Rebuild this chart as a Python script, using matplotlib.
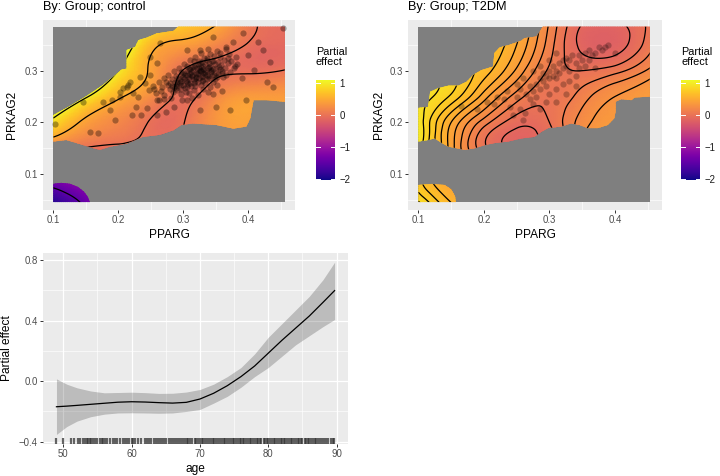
import numpy as np
import matplotlib
matplotlib.use("Agg")
import matplotlib.pyplot as plt
from matplotlib.patches import Rectangle, PathPatch
from matplotlib.path import Path
from matplotlib.tri import Triangulation, UniformTriRefiner

plt.rcParams['font.family'] = ['Liberation Sans', 'DejaVu Sans']

# ---- surface data: partial effect on a coarse grid ----
pparg_nodes = [0.10, 0.15, 0.20, 0.25, 0.30, 0.35, 0.40, 0.46]
prkag2_nodes = [0.04, 0.10, 0.15, 0.20, 0.25, 0.30, 0.35, 0.40]

effect_control = [
    [-1.95, -1.45, -1.00, -0.70, -0.40, -0.10, 0.10, 0.20],
    [-1.00, -0.80, -0.60, -0.50, -0.30, 0.00, 0.20, 0.25],
    [0.10, -0.02, -0.06, -0.08, -0.04, 0.25, 0.36, 0.33],
    [0.90, 0.42, 0.20, -0.02, -0.01, 0.33, 0.42, 0.40],
    [1.65, 1.05, 0.55, 0.25, -0.05, 0.20, 0.38, 0.38],
    [2.50, 1.80, 1.00, 0.45, -0.01, -0.05, -0.04, 0.02],
    [2.60, 2.00, 1.40, 0.62, 0.40, 0.20, -0.02, -0.10],
    [2.50, 2.20, 1.80, 1.30, 0.80, 0.60, 0.10, -0.10],
]

effect_t2dm = [
    [0.95, 0.62, 0.40, 0.30, 0.20, 0.30, 0.35, 0.35],
    [0.75, 0.45, 0.30, 0.10, 0.10, 0.30, 0.40, 0.40],
    [0.95, 0.45, 0.03, -0.13, -0.05, 0.30, 0.50, 0.45],
    [0.98, 0.50, 0.15, -0.06, 0.00, 0.25, 0.38, 0.42],
    [0.95, 0.78, 0.45, 0.15, 0.02, 0.15, 0.30, 0.40],
    [1.05, 0.85, 0.65, 0.38, 0.08, 0.00, 0.06, 0.25],
    [1.15, 0.95, 0.75, 0.50, 0.15, -0.13, -0.16, 0.10],
    [1.25, 1.05, 0.85, 0.58, 0.20, -0.08, -0.10, 0.05],
]

# regions that are not "too far" from the data (coloured part of the raster)
region_control = [
    [(0.100, 0.163), (0.100, 0.214), (0.125, 0.231), (0.150, 0.250), (0.175, 0.271),
     (0.195, 0.291), (0.205, 0.302), (0.213, 0.304), (0.213, 0.340), (0.226, 0.346),
     (0.231, 0.359), (0.244, 0.364), (0.259, 0.372), (0.285, 0.377), (0.292, 0.385),
     (0.456, 0.385), (0.456, 0.240), (0.428, 0.243), (0.408, 0.243), (0.403, 0.208),
     (0.397, 0.192), (0.377, 0.188), (0.351, 0.195), (0.315, 0.198), (0.297, 0.195),
     (0.285, 0.185), (0.264, 0.176), (0.238, 0.172), (0.213, 0.159), (0.187, 0.153),
     (0.172, 0.147), (0.162, 0.150), (0.136, 0.160), (0.120, 0.166)],
    [(0.100, 0.046), (0.100, 0.081), (0.112, 0.083), (0.126, 0.081), (0.138, 0.075),
     (0.147, 0.066), (0.153, 0.056), (0.156, 0.046)],
]

region_t2dm = [
    [(0.100, 0.163), (0.100, 0.228), (0.115, 0.230), (0.118, 0.259), (0.130, 0.266),
     (0.146, 0.271), (0.161, 0.271), (0.174, 0.279), (0.184, 0.292), (0.196, 0.301),
     (0.214, 0.308), (0.216, 0.334), (0.224, 0.345), (0.239, 0.350), (0.257, 0.358),
     (0.262, 0.363), (0.280, 0.366), (0.285, 0.375), (0.290, 0.385), (0.453, 0.385),
     (0.453, 0.250), (0.430, 0.248), (0.425, 0.243), (0.410, 0.245), (0.401, 0.240),
     (0.401, 0.221), (0.399, 0.208), (0.389, 0.195), (0.374, 0.189), (0.358, 0.189),
     (0.346, 0.195), (0.333, 0.198), (0.318, 0.192), (0.298, 0.189), (0.288, 0.182),
     (0.277, 0.172), (0.257, 0.169), (0.237, 0.163), (0.216, 0.160), (0.201, 0.156),
     (0.186, 0.150), (0.171, 0.147), (0.146, 0.153), (0.136, 0.160), (0.125, 0.169),
     (0.115, 0.166)],
    [(0.100, 0.046), (0.100, 0.079), (0.120, 0.081), (0.140, 0.079), (0.150, 0.071),
     (0.156, 0.057), (0.157, 0.046)],
]

# observations (PPARG, PRKAG2)
control_pts = [
    (0.102, 0.197), (0.146, 0.240), (0.156, 0.182), (0.169, 0.179), (0.177, 0.240),
    (0.187, 0.224), (0.190, 0.243), (0.203, 0.259), (0.203, 0.250), (0.208, 0.266),
    (0.213, 0.269), (0.215, 0.272), (0.218, 0.279), (0.221, 0.214), (0.223, 0.256),
    (0.228, 0.230), (0.231, 0.250), (0.233, 0.288), (0.241, 0.276), (0.244, 0.227),
    (0.249, 0.292), (0.249, 0.327), (0.259, 0.314), (0.259, 0.243), (0.259, 0.214),
    (0.264, 0.353), (0.274, 0.221), (0.285, 0.230), (0.305, 0.243), (0.305, 0.340),
    (0.326, 0.224), (0.326, 0.340), (0.346, 0.366), (0.351, 0.230), (0.372, 0.224),
    (0.377, 0.356), (0.392, 0.372), (0.397, 0.243), (0.408, 0.301), (0.423, 0.340),
    (0.428, 0.279), (0.433, 0.317), (0.438, 0.269), (0.454, 0.382), (0.195, 0.205),
    (0.235, 0.215), (0.255, 0.265), (0.270, 0.245), (0.365, 0.345), (0.400, 0.330),
    (0.380, 0.310), (0.415, 0.355), (0.360, 0.260), (0.345, 0.255), (0.390, 0.285),
    (0.262, 0.244), (0.281, 0.247), (0.298, 0.243), (0.314, 0.248),
    (0.258, 0.256), (0.271, 0.253), (0.284, 0.258), (0.296, 0.254), (0.309, 0.257),
    (0.322, 0.253), (0.338, 0.258),
    (0.247, 0.263), (0.266, 0.261), (0.279, 0.265), (0.291, 0.262), (0.303, 0.266),
    (0.317, 0.262), (0.331, 0.264),
    (0.253, 0.271), (0.268, 0.269), (0.276, 0.273), (0.288, 0.270), (0.297, 0.272),
    (0.306, 0.268), (0.318, 0.271), (0.327, 0.273), (0.341, 0.269), (0.352, 0.272),
    (0.262, 0.278), (0.279, 0.276), (0.287, 0.279), (0.295, 0.277), (0.304, 0.280),
    (0.311, 0.276), (0.322, 0.278), (0.333, 0.276), (0.345, 0.279),
    (0.271, 0.285), (0.283, 0.283), (0.292, 0.286), (0.301, 0.284), (0.309, 0.287),
    (0.316, 0.283), (0.324, 0.285), (0.331, 0.282), (0.339, 0.286), (0.348, 0.284),
    (0.361, 0.287),
    (0.277, 0.292), (0.289, 0.290), (0.298, 0.293), (0.306, 0.291), (0.313, 0.289),
    (0.321, 0.293), (0.328, 0.290), (0.336, 0.292), (0.344, 0.289), (0.353, 0.293),
    (0.366, 0.291),
    (0.286, 0.299), (0.297, 0.297), (0.305, 0.300), (0.312, 0.298), (0.319, 0.296),
    (0.327, 0.300), (0.334, 0.297), (0.342, 0.299), (0.351, 0.296), (0.359, 0.300),
    (0.372, 0.298),
    (0.294, 0.306), (0.308, 0.304), (0.316, 0.307), (0.324, 0.305), (0.331, 0.303),
    (0.338, 0.306), (0.346, 0.304), (0.355, 0.307), (0.364, 0.305), (0.378, 0.306),
    (0.301, 0.313), (0.318, 0.311), (0.326, 0.314), (0.333, 0.312), (0.341, 0.310),
    (0.349, 0.313), (0.358, 0.311), (0.369, 0.314), (0.383, 0.312),
    (0.311, 0.320), (0.324, 0.318), (0.336, 0.321), (0.344, 0.319), (0.353, 0.317),
    (0.362, 0.320), (0.374, 0.318),
    (0.318, 0.327), (0.332, 0.325), (0.347, 0.328), (0.357, 0.326), (0.368, 0.324),
    (0.381, 0.327),
    (0.327, 0.334), (0.341, 0.332), (0.356, 0.335), (0.371, 0.333),
    (0.338, 0.341), (0.352, 0.339), (0.366, 0.342),
    (0.300, 0.288), (0.310, 0.294), (0.320, 0.288), (0.330, 0.296), (0.315, 0.301),
    (0.325, 0.299), (0.305, 0.279), (0.295, 0.283), (0.335, 0.302), (0.318, 0.281),
    (0.290, 0.275), (0.340, 0.308), (0.285, 0.268), (0.327, 0.307), (0.312, 0.270),
    (0.296, 0.281), (0.302, 0.291), (0.308, 0.283), (0.314, 0.292), (0.319, 0.285),
    (0.323, 0.295), (0.329, 0.288), (0.334, 0.294), (0.338, 0.289), (0.343, 0.297),
    (0.347, 0.292), (0.326, 0.302), (0.331, 0.309), (0.321, 0.306), (0.311, 0.303),
    (0.301, 0.296), (0.291, 0.279), (0.299, 0.272), (0.307, 0.275), (0.316, 0.277),
    (0.328, 0.281), (0.336, 0.284), (0.343, 0.302), (0.350, 0.306), (0.357, 0.303),
    (0.339, 0.314), (0.346, 0.318), (0.322, 0.312), (0.313, 0.307), (0.282, 0.271),
    (0.289, 0.266), (0.273, 0.279), (0.306, 0.309), (0.352, 0.288), (0.360, 0.295),
    (0.317, 0.318), (0.329, 0.317), (0.337, 0.325), (0.296, 0.265), (0.304, 0.259),
]

t2dm_pts = [
    (0.165, 0.232), (0.190, 0.225), (0.205, 0.240), (0.215, 0.235), (0.220, 0.250),
    (0.230, 0.245), (0.235, 0.260), (0.240, 0.230), (0.245, 0.215), (0.250, 0.250),
    (0.255, 0.265), (0.260, 0.205), (0.262, 0.218), (0.265, 0.255), (0.270, 0.245),
    (0.270, 0.270), (0.275, 0.260), (0.280, 0.275), (0.280, 0.250), (0.285, 0.285),
    (0.285, 0.265), (0.290, 0.280), (0.290, 0.295), (0.295, 0.270), (0.295, 0.290),
    (0.300, 0.300), (0.300, 0.285), (0.305, 0.290), (0.305, 0.310), (0.310, 0.300),
    (0.310, 0.285), (0.315, 0.315), (0.315, 0.295), (0.320, 0.320), (0.320, 0.305),
    (0.325, 0.310), (0.325, 0.325), (0.330, 0.300), (0.330, 0.320), (0.335, 0.330),
    (0.340, 0.315), (0.345, 0.330), (0.350, 0.320), (0.355, 0.335), (0.360, 0.340),
    (0.365, 0.330), (0.370, 0.335), (0.375, 0.345), (0.380, 0.340), (0.385, 0.345),
    (0.390, 0.350), (0.360, 0.320), (0.300, 0.255), (0.310, 0.265), (0.320, 0.275),
    (0.330, 0.280), (0.340, 0.290), (0.295, 0.240), (0.310, 0.240), (0.325, 0.255),
    (0.255, 0.225), (0.275, 0.235), (0.285, 0.225), (0.340, 0.270), (0.370, 0.305),
    (0.310, 0.335), (0.300, 0.320), (0.285, 0.310), (0.275, 0.300), (0.345, 0.305),
    (0.355, 0.310), (0.400, 0.335), (0.260, 0.285), (0.250, 0.275),
]

levels_control = [-2.0, -1.5, -1.0, -0.5, 0.0, 0.5, 1.0, 1.5, 2.0]
levels_t2dm = [-0.1, 0.0, 0.1, 0.2, 0.3, 0.4, 0.5, 0.6, 0.7, 0.8, 0.9, 1.0, 1.1, 1.2, 1.3]

# ---- smooth of age ----
age = [49.0, 50.5, 52.0, 54.0, 56.0, 58.0, 60.0, 62.0, 64.0, 66.0, 68.0,
       70.0, 72.0, 74.0, 76.0, 78.0, 80.0, 82.0, 84.0, 86.0, 88.0, 89.7]
age_fit = [-0.169, -0.165, -0.160, -0.153, -0.146, -0.139, -0.136, -0.138, -0.142, -0.145, -0.140,
           -0.118, -0.080, -0.030, 0.030, 0.100, 0.185, 0.270, 0.350, 0.430, 0.520, 0.598]
age_upper = [0.015, -0.020, -0.044, -0.065, -0.077, -0.075, -0.073, -0.076, -0.081, -0.080, -0.072,
             -0.055, -0.020, 0.030, 0.090, 0.180, 0.290, 0.380, 0.470, 0.560, 0.670, 0.785]
age_lower = [-0.352, -0.300, -0.264, -0.235, -0.218, -0.210, -0.209, -0.210, -0.212, -0.210, -0.200,
             -0.187, -0.145, -0.100, -0.040, 0.030, 0.090, 0.165, 0.240, 0.300, 0.360, 0.407]
age_rug = [49.0, 50.0, 51.1, 51.6, 52.2, 52.5, 52.9,
           53.2, 53.4, 53.6, 53.9, 54.1, 54.4, 54.6, 54.9, 55.3, 55.6, 55.8, 56.1, 56.4, 56.9,
           57.2, 57.5, 57.8, 58.3, 58.7, 59.0, 59.3, 59.6, 60.0, 60.2, 60.5, 60.9, 61.4, 61.9,
           62.2, 62.5, 62.8, 63.2, 63.5, 63.9, 64.2, 64.5, 64.8, 65.1, 65.4, 65.8, 66.1, 66.3,
           66.6, 66.9, 67.2, 67.5, 67.8, 68.1, 68.3, 68.6, 68.9, 69.2, 69.4, 69.7, 70.0, 70.3,
           70.5, 70.8, 71.1, 71.3, 71.6, 71.9, 72.1, 72.4, 72.7, 72.9, 73.2, 73.5, 73.7, 74.0,
           74.2, 74.5, 74.8, 75.0, 75.3, 75.5, 75.8, 76.0, 76.3, 76.5, 76.8, 77.0, 77.3, 77.5,
           77.8, 78.0, 78.3, 78.5, 78.8, 79.0, 79.3, 79.5, 79.8, 80.0, 80.3, 80.5, 80.8, 81.0,
           81.3, 81.5, 81.8, 82.0, 82.3, 82.5, 82.8, 83.0, 83.3, 83.5, 83.8, 84.0, 84.3, 84.5,
           84.8, 85.0, 85.3, 85.5, 85.8, 86.0, 86.3, 86.5, 86.8, 87.0, 87.3, 87.6, 87.9, 88.2,
           88.5, 88.8, 89.1, 89.4, 89.6]

VMIN, VMAX = -2.02, 1.10
PANEL_BG = '#EBEBEB'
NA_GREY = '#7F7F7F'


def style_axes(ax):
    ax.set_facecolor(PANEL_BG)
    for s in ax.spines.values():
        s.set_visible(False)
    ax.grid(True, which='major', color='white', linewidth=0.9, zorder=0)
    ax.grid(True, which='minor', color='white', linewidth=0.45, zorder=0)
    ax.set_axisbelow(True)
    ax.tick_params(which='major', length=2.2, width=0.7, color='#333333',
                   labelcolor='#4D4D4D', labelsize=6.9, pad=1.5)
    ax.tick_params(which='minor', length=0)


# triangulated grid used to draw the surfaces
gx, gy = np.meshgrid(pparg_nodes, prkag2_nodes)
nx, ny = len(pparg_nodes), len(prkag2_nodes)
triangles = []
for j in range(ny - 1):
    for i in range(nx - 1):
        a = j * nx + i
        triangles.append([a, a + 1, a + nx + 1])
        triangles.append([a, a + nx + 1, a + nx])
tri = Triangulation(gx.ravel(), gy.ravel(), triangles)
refiner = UniformTriRefiner(tri)


def draw_surface(ax, effect, regions, pts, levels, title, xmax, pt_alpha):
    style_axes(ax)
    ax.set_xlim(0.0842, 0.4718)
    ax.set_ylim(0.0306, 0.398)
    ax.set_xticks([0.1, 0.2, 0.3, 0.4])
    ax.set_xticks([0.15, 0.25, 0.35, 0.45], minor=True)
    ax.set_yticks([0.1, 0.2, 0.3])
    ax.set_yticks([0.05, 0.15, 0.25, 0.35], minor=True)
    ax.set_xticklabels(['0.1', '0.2', '0.3', '0.4'])
    ax.set_yticklabels(['0.1', '0.2', '0.3'])

    ax.add_patch(Rectangle((0.1, 0.046), xmax - 0.1, 0.385 - 0.046,
                           facecolor=NA_GREY, edgecolor='none', zorder=1))

    verts, codes = [], []
    for poly in regions:
        verts += list(poly) + [poly[0]]
        codes += [Path.MOVETO] + [Path.LINETO] * (len(poly) - 1) + [Path.CLOSEPOLY]
    clip = PathPatch(Path(verts, codes), transform=ax.transData,
                     facecolor='none', edgecolor='none')
    ax.add_patch(clip)

    tri_f, z_f = refiner.refine_field(np.array(effect).ravel(), subdiv=4)
    tp = ax.tripcolor(tri_f, z_f, shading='gouraud', cmap='plasma',
                      vmin=VMIN, vmax=VMAX, zorder=2)
    tp.set_clip_path(clip)
    cs = ax.tricontour(tri_f, z_f, levels=levels, colors='black',
                       linewidths=0.9, linestyles='solid', zorder=3)
    cs.set_clip_path(clip)

    px = [p[0] for p in pts]
    py = [p[1] for p in pts]
    ax.scatter(px, py, s=20, color='black', alpha=pt_alpha, linewidths=0, zorder=4)

    ax.set_title(title, loc='left', fontsize=9.2, pad=7)
    ax.set_xlabel('PPARG', fontsize=8.6, labelpad=3)
    ax.set_ylabel('PRKAG2', fontsize=8.6)


def draw_legend(fig, rect, title_xy):
    cax = fig.add_axes(rect)
    grad = np.linspace(VMIN, VMAX, 256).reshape(-1, 1)
    cax.imshow(grad, extent=[0, 1, VMIN, VMAX], origin='lower', aspect='auto',
               cmap='plasma', vmin=VMIN, vmax=VMAX)
    cax.set_xlim(0, 1)
    cax.set_ylim(VMIN, VMAX)
    for s in cax.spines.values():
        s.set_visible(False)
    cax.set_xticks([])
    cax.yaxis.tick_right()
    cax.set_yticks([1, 0, -1, -2])
    cax.set_yticklabels(['1', '0', '\u22121', '\u22122'])
    cax.tick_params(axis='y', length=0, labelsize=6.9, labelcolor='#1A1A1A', pad=3)
    for v in [1, 0, -1, -2]:
        cax.plot([0, 0.2], [v, v], color='white', lw=0.7)
        cax.plot([0.8, 1], [v, v], color='white', lw=0.7)
    fig.text(title_xy[0], title_xy[1], 'Partial\neffect', fontsize=7.8,
             ha='left', va='top', linespacing=1.05)


W, H = 720, 476
fig = plt.figure(figsize=(7.2, 4.76), dpi=100)

ax1 = fig.add_axes([43 / W, 1 - 210 / H, 252 / W, 190 / H])
draw_surface(ax1, effect_control, region_control, control_pts, levels_control,
             'By: Group; control', 0.456, 0.33)
ax1.yaxis.set_label_coords(-0.10, 0.5)

ax2 = fig.add_axes([408 / W, 1 - 210 / H, 254 / W, 190 / H])
draw_surface(ax2, effect_t2dm, region_t2dm, t2dm_pts, levels_t2dm,
             'By: Group; T2DM', 0.453, 0.25)
ax2.yaxis.set_label_coords(-0.09, 0.5)

draw_legend(fig, [316 / W, 1 - 180 / H, 19 / W, 100 / H], (316 / W, 1 - 47 / H))
draw_legend(fig, [681 / W, 1 - 180 / H, 19 / W, 100 / H], (681 / W, 1 - 47 / H))

# age smooth
ax3 = fig.add_axes([43 / W, 1 - 444 / H, 305 / W, 191 / H])
style_axes(ax3)
ax3.set_xlim(47.03, 91.66)
ax3.set_ylim(-0.415, 0.846)
ax3.set_xticks([50, 60, 70, 80, 90])
ax3.set_xticks([55, 65, 75, 85], minor=True)
ax3.set_yticks([-0.4, 0.0, 0.4, 0.8])
ax3.set_yticks([-0.2, 0.2, 0.6], minor=True)
ax3.set_yticklabels(['\u22120.4', '0.0', '0.4', '0.8'])
ax3.fill_between(age, age_lower, age_upper, color='black', alpha=0.2,
                 linewidth=0, zorder=2)
ax3.plot(age, age_fit, color='black', lw=0.9, zorder=3)
ax3.vlines(age_rug, 0, 0.03, transform=ax3.get_xaxis_transform(),
           colors='#333333', alpha=0.75, linewidth=1.6, zorder=3)
ax3.set_xlabel('age', fontsize=8.6, labelpad=3)
ax3.set_ylabel('Partial effect', fontsize=8.6)
ax3.yaxis.set_label_coords(-0.098, 0.5)

fig.savefig('out.png', dpi=100)
